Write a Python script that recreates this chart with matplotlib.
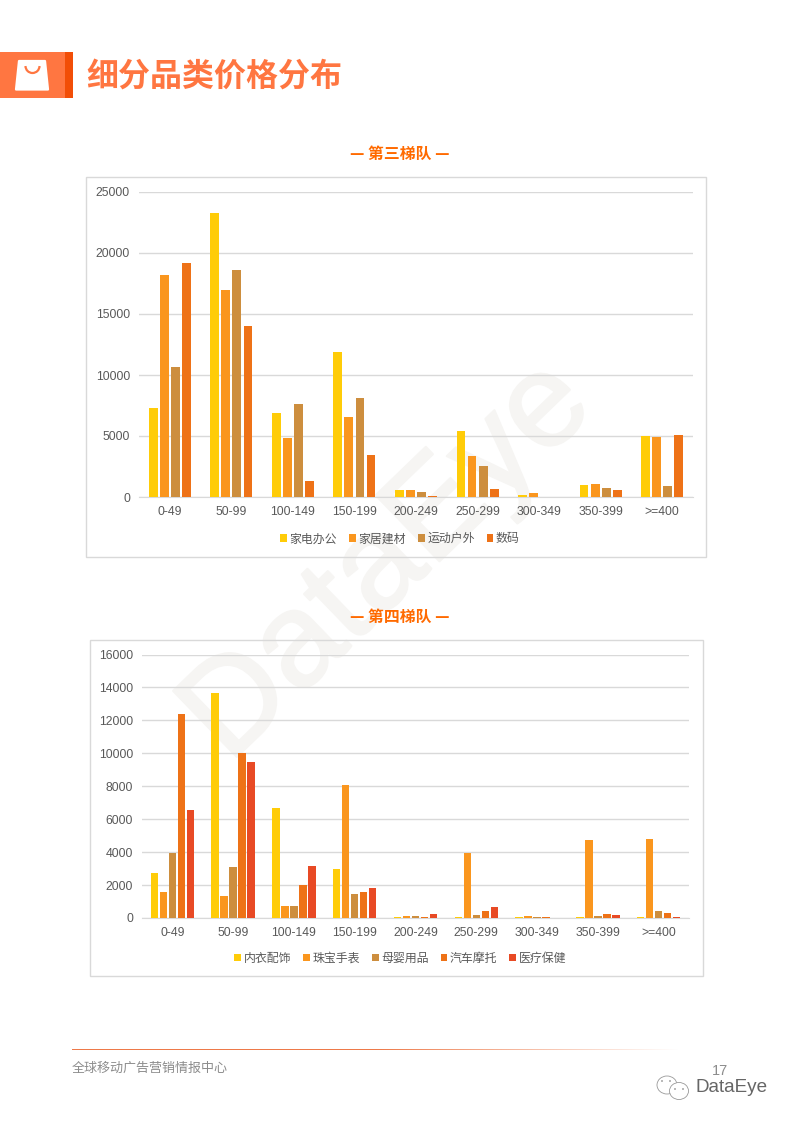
import numpy as np
import matplotlib
matplotlib.use("Agg")
import matplotlib.pyplot as plt
import matplotlib.patheffects as pe
from matplotlib.patches import Rectangle, Polygon, Ellipse, Arc

plt.rcParams['font.family'] = ['Noto Sans CJK SC', 'DejaVu Sans']

W, H = 794, 1123

price_bins = ["0-49", "50-99", "100-149", "150-199", "200-249", "250-299", "300-349", "350-399", ">=400"]

# third tier
tier3_names = ["家电办公", "家居建材", "运动户外", "数码"]
appliance = [7300, 23300, 6900, 11900, 550, 5400, 150, 1000, 5000]
home = [18200, 16950, 4850, 6550, 550, 3350, 300, 1100, 4950]
outdoor = [10650, 18600, 7650, 8100, 450, 2550, 0, 750, 900]
digital = [19150, 14000, 1300, 3450, 100, 650, 0, 600, 5100]

# fourth tier
tier4_names = ["内衣配饰", "珠宝手表", "母婴用品", "汽车摩托", "医疗保健"]
underwear = [2750, 13650, 6680, 2980, 50, 60, 60, 60, 60]
jewelry = [1600, 1350, 750, 8080, 120, 3950, 120, 4750, 4800]
baby = [3950, 3100, 750, 1450, 120, 200, 60, 120, 420]
auto = [12400, 10000, 2000, 1600, 60, 420, 60, 250, 320]
medical = [6550, 9480, 3150, 1820, 250, 680, 0, 200, 60]

tier3_ticks = [0, 5000, 10000, 15000, 20000, 25000]
tier4_ticks = [0, 2000, 4000, 6000, 8000, 10000, 12000, 14000, 16000]

colors = ["#FFCC08", "#FA961E", "#CD8E3E", "#EE7217", "#E84A25"]


def axes_px(left, top, right, bottom, **kw):
    """Make axes from pixel edges measured from the top left of the page."""
    return fig.add_axes([left / W, 1 - bottom / H, (right - left) / W, (bottom - top) / H], **kw)


def draw_chart(ax, series, names, ticks, step, width, legend_pos):
    ax.patch.set_alpha(0)
    x = np.arange(len(price_bins))
    n = len(series)
    handles = []
    for i, vals in enumerate(series):
        b = ax.bar(x + (i - (n - 1) / 2) * step, vals, width, color=colors[i], zorder=3, label=names[i])
        handles.append(b)
    ax.set_xlim(-0.5, len(price_bins) - 0.5)
    ax.set_ylim(0, ticks[-1])
    ax.set_yticks(ticks)
    ax.set_xticks(x)
    ax.set_xticklabels(price_bins)
    ax.grid(axis='y', color='#D9D9D9', lw=1, zorder=1)
    ax.tick_params(length=0, labelsize=8.8, labelcolor='#595959')
    ax.tick_params(axis='x', pad=6.5)
    ax.tick_params(axis='y', pad=6.5)
    for lab in ax.get_xticklabels() + ax.get_yticklabels():
        lab.set_family('Liberation Sans')
    for s in ['top', 'right', 'left']:
        ax.spines[s].set_visible(False)
    ax.spines['bottom'].set_color('#D9D9D9')
    ax.legend(handles=handles, ncol=n, loc='center', bbox_to_anchor=legend_pos, frameon=False,
              fontsize=8.6, labelcolor='#595959', handlelength=0.58, handleheight=0.58,
              handletextpad=0.2, columnspacing=1.0, borderpad=0)


fig = plt.figure(figsize=(W / 100, H / 100), dpi=100)

# page layer in pixel coordinates
page = fig.add_axes([0, 0, 1, 1], zorder=0)
page.set_xlim(0, W)
page.set_ylim(H, 0)
page.axis('off')

# watermark
page.text(389, 562, "DataEye", fontsize=96, color='#F6F5F3', rotation=44, rotation_mode='anchor',
          ha='center', va='center', family='Liberation Sans', zorder=1,
          path_effects=[pe.withStroke(linewidth=1.6, foreground='#F6F5F3')])

# header block and bag icon
page.add_patch(Rectangle((0, 52), 65, 46, color='#FF7641', lw=0, zorder=2))
page.add_patch(Rectangle((65, 52), 8, 46, color='#F24E07', lw=0, zorder=2))
page.add_patch(Polygon([(19, 61), (45, 61), (48, 89.5), (16, 89.5)], closed=True, fc='white', ec='white',
                       lw=1.6, joinstyle='round', zorder=3))
page.add_patch(Arc((32.5, 66), 14, 14, theta1=0, theta2=180, color='#FF7641', lw=1.6, zorder=4))
page.text(86, 77, "细分品类价格分布", fontsize=23, fontweight='bold', color='#FF7641', va='center', ha='left')

# chart frames
page.add_patch(Rectangle((86, 176.5), 620, 380, fc='none', ec='#D9D9D9', lw=1, zorder=2))
page.add_patch(Rectangle((90, 640), 613, 336, fc='none', ec='#D9D9D9', lw=1, zorder=2))

page.text(400, 154, "— 第三梯队 —", fontsize=11.4, fontweight='bold', color='#FF6A00', ha='center', va='center')
page.text(400, 617, "— 第四梯队 —", fontsize=11.4, fontweight='bold', color='#FF6A00', ha='center', va='center')

ax1 = axes_px(139, 192, 693, 497, zorder=2)
draw_chart(ax1, [appliance, home, outdoor, digital], tier3_names, tier3_ticks, 0.18, 0.144, (0.471, -0.137))

ax2 = axes_px(142, 654.5, 689, 918, zorder=2)
draw_chart(ax2, [underwear, jewelry, baby, auto, medical], tier4_names, tier4_ticks, 0.148, 0.122, (0.472, -0.152))

# footer rule fades out to the right
rule = np.ones((1, 256, 4))
rule[..., :3] = matplotlib.colors.to_rgb('#EE7A4A')
rule[..., 3] = np.concatenate([np.ones(128), np.linspace(1, 0, 128)])
page.imshow(rule, extent=(72, 680, 1050.5, 1049.5), aspect='auto', zorder=2)
page.set_xlim(0, W)
page.set_ylim(H, 0)

page.text(72, 1068, "全球移动广告营销情报中心", fontsize=9.4, color='#8C8C8C', ha='left', va='center')
page.text(720, 1071, "17", fontsize=10.5, color='#8C8C8C', ha='center', va='center', family='Liberation Sans')
page.text(731.5, 1087, "DataEye", fontsize=13.6, color='#666666', ha='center', va='center', family='Liberation Sans')

# wechat mark
page.add_patch(Ellipse((667, 1085), 20, 18, fc='white', ec='#999999', lw=0.6, zorder=3))
page.add_patch(Ellipse((679, 1091), 19, 17, fc='white', ec='#999999', lw=0.6, zorder=4))
for ex, ey in [(662, 1081), (670, 1081), (675, 1089), (683, 1089)]:
    page.add_patch(Ellipse((ex, ey), 1.6, 1.6, fc='#777777', lw=0, zorder=5))

fig.savefig("out.png", dpi=100)
